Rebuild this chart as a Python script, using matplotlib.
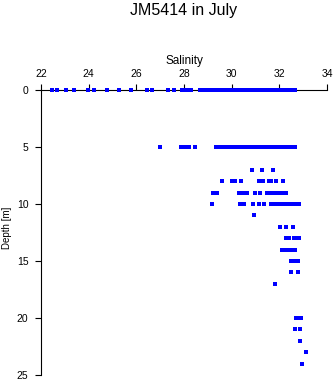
import matplotlib
matplotlib.use("Agg")
import matplotlib.pyplot as plt

plt.rcParams['font.family'] = ['Liberation Sans', 'DejaVu Sans']

# salinity readings grouped by depth [m]
depths = [0, 5, 7, 8, 9, 10, 11, 12, 13, 14, 15, 16, 17, 20, 21, 22, 23, 24]

sal_0m = [22.45, 22.69, 23.04, 23.38, 23.99, 24.24, 24.77, 25.26, 25.76, 26.45,
          26.67, 27.34, 27.58, 27.93, 28.04, 28.17, 28.28, 28.67, 28.78, 28.9,
          29.02, 29.09, 29.2, 29.3, 29.41, 29.52, 29.63, 29.74, 29.85, 29.96,
          30.07, 30.18, 30.29, 30.4, 30.5, 30.6, 30.7, 30.73, 30.84, 30.95,
          31.06, 31.17, 31.28, 31.39, 31.5, 31.61, 31.72, 31.83, 31.94, 32.05,
          32.16, 32.27, 32.38, 32.49, 32.6, 32.66]
sal_5m = [27.0, 27.89, 28.06, 28.22, 28.47, 29.33, 29.51, 29.62, 29.73, 29.84,
          29.95, 30.06, 30.14, 30.18, 30.29, 30.4, 30.51, 30.62, 30.73, 30.84,
          30.95, 31.06, 31.17, 31.28, 31.39, 31.5, 31.61, 31.72, 31.83, 31.93,
          32.04, 32.15, 32.26, 32.37, 32.48, 32.59, 32.66]
sal_7m = [30.87, 31.29, 31.75]
sal_8m = [29.6, 30.02, 30.12, 30.41, 31.16, 31.33, 31.56, 31.66, 31.86, 32.14]
sal_9m = [29.23, 29.4, 30.32, 30.42, 30.53, 30.63, 30.99, 31.18, 31.48, 31.66,
          31.77, 31.88, 31.98, 32.08, 32.18, 32.28]
sal_10m = [29.16, 30.35, 30.53, 30.91, 31.16, 31.36, 31.65, 31.76, 31.87, 31.98,
           32.09, 32.2, 32.31, 32.42, 32.53, 32.64, 32.75, 32.84]
sal_11m = [30.95]
sal_12m = [32.04, 32.29, 32.59]
sal_13m = [32.27, 32.39, 32.6, 32.7, 32.81]
sal_14m = [32.13, 32.3, 32.43, 32.56, 32.67]
sal_15m = [32.5, 32.6, 32.7, 32.78]
sal_16m = [32.5, 32.8]
sal_17m = [31.83]
sal_20m = [32.71, 32.82, 32.9]
sal_21m = [32.67, 32.87]
sal_22m = [32.88]
sal_23m = [33.13]
sal_24m = [32.94]

rows = [sal_0m, sal_5m, sal_7m, sal_8m, sal_9m, sal_10m, sal_11m, sal_12m,
        sal_13m, sal_14m, sal_15m, sal_16m, sal_17m, sal_20m, sal_21m,
        sal_22m, sal_23m, sal_24m]

xs = []
ys = []
for d, row in zip(depths, rows):
    xs += row
    ys += [d] * len(row)

fig = plt.figure(figsize=(3.35, 3.84), dpi=100)
ax = fig.add_axes([41 / 335, 9 / 384, 286 / 335, 285 / 384])

ax.plot(xs, ys, 's', color='#0000ff', ms=2.3, mew=0, zorder=3, clip_on=False)

ax.set_xlim(22, 34)
ax.set_ylim(25, 0)
ax.set_xticks(range(22, 35, 2))
ax.set_yticks(range(0, 26, 5))
ax.xaxis.tick_top()
ax.tick_params(axis='both', direction='out', length=4.5, width=0.8,
               labelsize=7.5, pad=3.5)
ax.tick_params(axis='y', pad=4.5)
for s in ['right', 'bottom']:
    ax.spines[s].set_visible(False)
for s in ['left', 'top']:
    ax.spines[s].set_linewidth(0.8)

fig.text(184 / 335, 1 - 11 / 384, 'JM5414 in July', ha='center', va='center',
         fontsize=11.5)
fig.text(184 / 335, 1 - 61 / 384, 'Salinity', ha='center', va='center',
         fontsize=8.5)
fig.text(7 / 335, 1 - 228 / 384, 'Depth [m]', ha='center', va='center',
         rotation=90, fontsize=7)

fig.savefig('out.png', dpi=100)
